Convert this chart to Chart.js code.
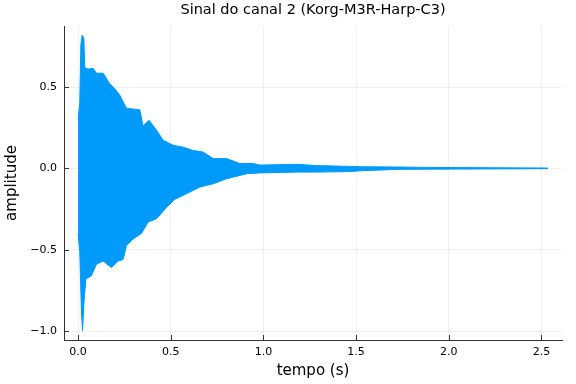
<!DOCTYPE html>
<html>
<head>
<meta charset="utf-8">
<script src="https://cdn.jsdelivr.net/npm/chart.js@4"></script>
<style>
  html, body { margin: 0; padding: 0; background: #fff; }
</style>
</head>
<body>
<canvas id="sinal" width="576" height="384"></canvas>
<script>
const titulo = "Sinal do canal 2 (Korg-M3R-Harp-C3)";
const rotuloX = "tempo (s)";
const rotuloY = "amplitude";
const xTicks = [0, 0.5, 1, 1.5, 2, 2.5];
const yTicks = [-1, -0.5, 0, 0.5];

// envelope superior do sinal
const tempoSup = [0.000, 0.009, 0.015, 0.022, 0.031, 0.036, 0.054, 0.081, 0.099, 0.135,
                  0.171, 0.198, 0.225, 0.261, 0.333, 0.351, 0.383, 0.423, 0.459, 0.513,
                  0.567, 0.621, 0.675, 0.729, 0.801, 0.873, 0.944, 0.981, 1.180, 1.287,
                  1.466, 1.520, 1.736, 1.871, 2.535];
const ampSup = [0.30, 0.40, 0.76, 0.82, 0.80, 0.62, 0.61, 0.615, 0.585, 0.585,
                0.52, 0.49, 0.45, 0.37, 0.36, 0.26, 0.296, 0.235, 0.173, 0.142,
                0.13, 0.11, 0.10, 0.06, 0.06, 0.03, 0.03, 0.02, 0.025, 0.017,
                0.012, 0.010, 0.008, 0.006, 0.002];

// envelope inferior
const tempoInf = [0.000, 0.009, 0.018, 0.024, 0.031, 0.042, 0.072, 0.099, 0.135, 0.180,
                  0.216, 0.243, 0.261, 0.297, 0.342, 0.378, 0.423, 0.477, 0.522, 0.585,
                  0.657, 0.729, 0.801, 0.909, 0.981, 1.180, 1.287, 1.466, 1.520, 1.736,
                  1.871, 2.535];
const ampInf = [-0.40, -0.51, -0.877, -1.0, -0.835, -0.68, -0.66, -0.59, -0.57, -0.61,
                -0.57, -0.56, -0.475, -0.434, -0.40, -0.33, -0.31, -0.24, -0.19, -0.156,
                -0.115, -0.095, -0.064, -0.033, -0.028, -0.023, -0.023, -0.02, -0.015, -0.006,
                -0.005, -0.002];

const azul = "#009AFA";
const fonte = "'DejaVu Sans', sans-serif";

function fmt(v) {
  let s = Math.abs(v).toFixed(1);
  return v < 0 ? "\u2212" + s : s;
}

// textos e marcas internas dos eixos
const decoracao = {
  id: "decoracao",
  afterDraw(chart) {
    const ctx = chart.ctx;
    const a = chart.chartArea;
    const sx = chart.scales.x, sy = chart.scales.y;
    ctx.save();
    ctx.strokeStyle = "#333";
    ctx.lineWidth = 1;
    xTicks.forEach(v => {
      let px = Math.round(sx.getPixelForValue(v)) + 0.5;
      ctx.beginPath(); ctx.moveTo(px, a.bottom); ctx.lineTo(px, a.bottom - 5); ctx.stroke();
    });
    yTicks.forEach(v => {
      let py = Math.round(sy.getPixelForValue(v)) + 0.5;
      ctx.beginPath(); ctx.moveTo(a.left, py); ctx.lineTo(a.left + 5, py); ctx.stroke();
    });
    ctx.fillStyle = "#000";
    ctx.textAlign = "center";
    ctx.textBaseline = "middle";
    let cx = (a.left + a.right) / 2;
    ctx.font = "14.5px " + fonte;
    ctx.fillText(titulo, cx, 10);
    ctx.font = "15px " + fonte;
    ctx.fillText(rotuloX, cx, 371);
    ctx.translate(12, (a.top + a.bottom) / 2);
    ctx.rotate(-Math.PI / 2);
    ctx.fillText(rotuloY, 0, 0);
    ctx.restore();
  }
};

new Chart(document.getElementById("sinal"), {
  type: "line",
  data: {
    datasets: [
      {
        data: tempoSup.map((t, i) => ({ x: t, y: ampSup[i] })),
        borderColor: azul,
        backgroundColor: azul,
        borderWidth: 1,
        pointRadius: 0,
        fill: "+1"
      },
      {
        data: tempoInf.map((t, i) => ({ x: t, y: ampInf[i] })),
        borderColor: azul,
        backgroundColor: azul,
        borderWidth: 1,
        pointRadius: 0,
        fill: false
      }
    ]
  },
  options: {
    responsive: false,
    animation: false,
    devicePixelRatio: 1,
    layout: { padding: { left: 0, right: 14, top: 26, bottom: 0 } },
    plugins: { legend: { display: false }, tooltip: { enabled: false } },
    scales: {
      x: {
        type: "linear",
        min: -0.076,
        max: 2.611,
        afterBuildTicks: s => { s.ticks = xTicks.map(v => ({ value: v })); },
        afterFit: s => { s.height = 44; },
        ticks: { callback: v => fmt(v), color: "#000", font: { family: fonte, size: 11 }, padding: 6, maxRotation: 0 },
        grid: { color: "rgba(0,0,0,0.06)", drawTicks: false },
        border: { color: "#333", width: 1 }
      },
      y: {
        min: -1.055,
        max: 0.875,
        afterBuildTicks: s => { s.ticks = yTicks.map(v => ({ value: v })); },
        afterFit: s => { s.width = 64; },
        ticks: { callback: v => fmt(v), color: "#000", font: { family: fonte, size: 11 }, padding: 7 },
        grid: { color: "rgba(0,0,0,0.06)", drawTicks: false },
        border: { color: "#333", width: 1 }
      }
    }
  },
  plugins: [decoracao]
});
</script>
</body>
</html>
